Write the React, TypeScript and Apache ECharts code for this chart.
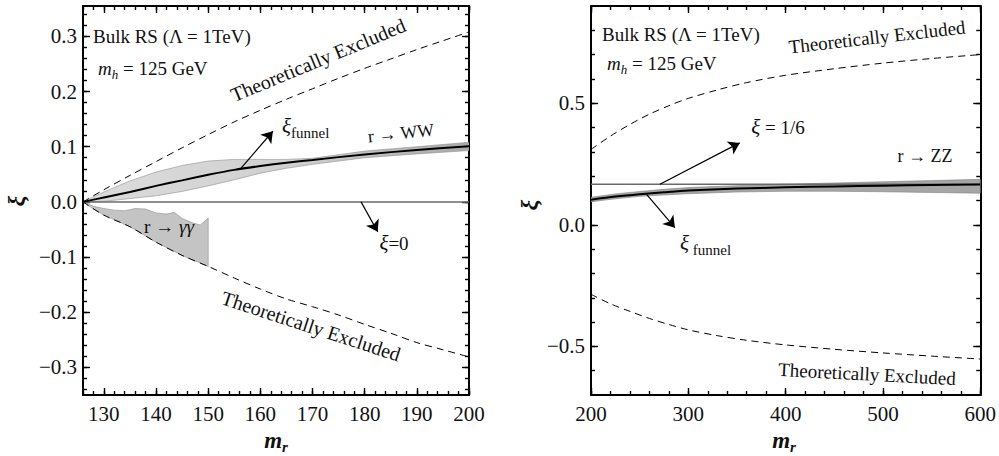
import React, { useEffect, useRef } from 'react';
import * as echarts from 'echarts';

const FONT = 'Liberation Serif';
const INK = '#111';

// ---------------- Left panel: r -> WW, r -> γγ
const L_X_RANGE = [126, 200];
const L_Y_RANGE = [-0.35, 0.355];
const L_X_TICKS = [130, 140, 150, 160, 170, 180, 190, 200];
const L_X_TICK_LABELS = ['130', '140', '150', '160', '170', '180', '190', '200'];
const L_Y_TICKS = [-0.3, -0.2, -0.1, 0, 0.1, 0.2, 0.3];
const L_Y_TICK_LABELS = ['−0.3', '−0.2', '−0.1', '0.0', '0.1', '0.2', '0.3'];

const L_BOUND_X = [126, 130, 135, 140, 145, 150, 155, 160, 165, 170, 175, 180, 185, 190, 195, 200];
const L_BOUND_UPPER = [0, 0.022, 0.048, 0.073, 0.098, 0.122, 0.145, 0.166, 0.186, 0.205, 0.224, 0.242, 0.259, 0.276, 0.292, 0.308];
const L_BOUND_LOWER = [0, -0.024, -0.045, -0.073, -0.097, -0.117, -0.138, -0.158, -0.176, -0.19, -0.205, -0.222, -0.238, -0.255, -0.268, -0.281];

const WW_X = [126, 130, 135, 140, 145, 150, 155, 160, 165, 170, 180, 190, 200];
const WW_UPPER = [0, 0.018, 0.038, 0.054, 0.066, 0.074, 0.077, 0.077, 0.077, 0.079, 0.092, 0.1, 0.108];
const WW_LOWER = [0, 0.001, 0.006, 0.011, 0.019, 0.029, 0.04, 0.052, 0.061, 0.068, 0.08, 0.087, 0.093];
const WW_CENTER = [0, 0.008, 0.018, 0.029, 0.039, 0.049, 0.058, 0.065, 0.071, 0.076, 0.086, 0.094, 0.101];

const GG_UPPER_X = [126, 128, 130, 132, 134, 136, 138, 140, 142, 143.5, 145, 147, 148.5, 150];
const GG_UPPER_Y = [0, -0.008, -0.012, -0.015, -0.016, -0.012, -0.013, -0.02, -0.022, -0.019, -0.03, -0.038, -0.042, -0.029];
const GG_LOWER_X = [126, 128, 130, 135, 140, 145, 150];
const GG_LOWER_Y = [0, -0.013, -0.024, -0.045, -0.073, -0.097, -0.117];

const L_REF_X = [126, 200];
const L_REF_Y = [0, 0];

const L_ARROWS = [
  [[156.3, 0.061], [162.4, 0.128]],
  [[179.3, 0], [182.5, -0.054]],
];

// ---------------- Right panel: r -> ZZ
const R_X_RANGE = [200, 600];
const R_Y_RANGE = [-0.7, 0.9];
const R_X_TICKS = [200, 300, 400, 500, 600];
const R_X_TICK_LABELS = ['200', '300', '400', '500', '600'];
const R_Y_TICKS = [-0.5, 0, 0.5];
const R_Y_TICK_LABELS = ['−0.5', '0.0', '0.5'];

const R_BOUND_X = [200, 220, 240, 260, 280, 300, 330, 360, 400, 450, 500, 550, 600];
const R_BOUND_UPPER = [0.31, 0.365, 0.413, 0.455, 0.49, 0.52, 0.555, 0.585, 0.615, 0.642, 0.665, 0.684, 0.7];
const R_BOUND_LOWER = [-0.286, -0.325, -0.356, -0.385, -0.41, -0.432, -0.456, -0.475, -0.494, -0.512, -0.527, -0.54, -0.552];

const ZZ_X = [200, 225, 250, 275, 300, 350, 400, 450, 500, 550, 600];
const ZZ_CENTER = [0.103, 0.116, 0.126, 0.134, 0.141, 0.149, 0.154, 0.158, 0.161, 0.164, 0.166];
const ZZ_UPPER = [0.113, 0.127, 0.137, 0.146, 0.153, 0.161, 0.167, 0.172, 0.177, 0.182, 0.187];
const ZZ_LOWER = [0.095, 0.107, 0.117, 0.123, 0.128, 0.135, 0.138, 0.138, 0.136, 0.133, 0.13];

const R_REF_X = [200, 600];
const R_REF_Y = [0.1667, 0.1667];

const R_ARROWS = [
  [[270.8, 0.1667], [352.8, 0.337]],
  [[257.1, 0.125], [286.2, -0.012]],
];

// ---------------- helpers
const zip = (xs: number[], ys: number[]) => xs.map((x, i) => [x, ys[i]]);
const steps = (a: number, b: number, s: number) => {
  const out: number[] = [];
  const n = Math.round((b - a) / s);
  for (let i = 0; i <= n; i++) out.push(+(a + i * s).toFixed(4));
  return out;
};

function labelFor(ticks: number[], labels: string[]) {
  return (v: number) => {
    const i = ticks.findIndex((t) => Math.abs(t - v) < 1e-6);
    return i >= 0 ? '{t|' + labels[i] + '}' : '';
  };
}

const tickLine = { color: '#000', width: 1.4 };
const frameLine = { show: true, onZero: false, lineStyle: { color: '#000', width: 2 } };
const noLine = { show: false, onZero: false };

function axesFor(
  dim: 'x' | 'y',
  gridIndex: number,
  range: number[],
  majors: number[],
  labels: string[],
  minors: number[],
) {
  const base = { type: 'value', gridIndex, min: range[0], max: range[1], splitLine: { show: false } };
  const p1 = dim === 'x' ? 'bottom' : 'left';
  const p2 = dim === 'x' ? 'top' : 'right';
  const label = {
    show: true,
    customValues: majors,
    formatter: labelFor(majors, labels),
    margin: dim === 'x' ? 8 : 6,
    color: INK,
    fontFamily: FONT,
    fontSize: 21,
    rich: { t: { fontFamily: FONT, fontSize: 21, color: INK } },
  };
  const major = { show: true, inside: true, length: 7, customValues: majors, lineStyle: tickLine };
  const minor = { show: true, inside: true, length: 4, customValues: minors, lineStyle: tickLine };
  return [
    { ...base, position: p1, axisLine: frameLine, axisTick: major, axisLabel: label },
    { ...base, position: p1, axisLine: noLine, axisTick: minor, axisLabel: { show: false } },
    { ...base, position: p2, axisLine: frameLine, axisTick: major, axisLabel: { show: false } },
    { ...base, position: p2, axisLine: noLine, axisTick: minor, axisLabel: { show: false } },
  ];
}

function band(ax: number, upper: number[][], lower: number[][], fill: any, stroke: string) {
  return {
    type: 'custom',
    xAxisIndex: ax,
    yAxisIndex: ax,
    silent: true,
    clip: true,
    z: 1,
    data: [upper[0]],
    renderItem: (_p: any, api: any) => {
      const ring = upper.concat(lower.slice().reverse()).map((p) => api.coord(p));
      return {
        type: 'polygon',
        shape: { points: ring },
        style: { fill, stroke, lineWidth: 0.6 },
      };
    },
  };
}

function curve(ax: number, data: number[][], color: string, width: number, dashed: boolean, z: number, extra: any = {}) {
  return {
    type: 'line',
    xAxisIndex: ax,
    yAxisIndex: ax,
    data,
    symbol: 'none',
    showSymbol: false,
    smooth: 0.3,
    silent: true,
    z,
    lineStyle: { color, width, type: dashed ? [7, 5] : 'solid' },
    emphasis: { disabled: true },
    ...extra,
  };
}

function arrows(list: number[][][]) {
  return {
    silent: true,
    symbol: ['none', 'arrow'],
    symbolSize: 11,
    lineStyle: { color: '#000', width: 1.2, type: 'solid' },
    label: { show: false },
    emphasis: { disabled: true },
    data: list.map((a) => [{ coord: a[0] }, { coord: a[1] }]),
  };
}

const RICH = {
  n: { fontFamily: FONT, fontSize: 19, lineHeight: 26, fill: INK },
  i: { fontFamily: FONT, fontSize: 19, fontStyle: 'italic', lineHeight: 26, fill: INK },
  sub: { fontFamily: FONT, fontSize: 13, fontStyle: 'italic', verticalAlign: 'bottom', fill: INK },
  xi: { fontFamily: FONT, fontSize: 21, fontStyle: 'italic', lineHeight: 28, fill: INK },
  fun: { fontFamily: FONT, fontSize: 15, verticalAlign: 'bottom', fill: INK },
  bm: { fontFamily: FONT, fontSize: 23, fontStyle: 'italic', fontWeight: 'bold', lineHeight: 28, fill: INK },
  br: { fontFamily: FONT, fontSize: 15, fontStyle: 'italic', fontWeight: 'bold', verticalAlign: 'bottom', fill: INK },
};

function txt(x: number, y: number, text: string, o: any = {}) {
  return {
    type: 'text',
    x,
    y,
    rotation: o.rot || 0,
    silent: true,
    z: 100,
    style: {
      text,
      x: 0,
      y: 0,
      fontFamily: FONT,
      fontSize: o.size || 19,
      fontStyle: o.italic ? 'italic' : 'normal',
      fontWeight: o.bold ? 'bold' : 'normal',
      fill: INK,
      align: o.align || 'center',
      verticalAlign: 'middle',
      rich: RICH,
    },
  };
}

const deg = (d: number) => (d * Math.PI) / 180;

export default function App() {
  const ref = useRef<HTMLDivElement>(null);
  useEffect(() => {
    document.body.style.margin = '0';
    if (!ref.current) return;
    const chart = echarts.init(ref.current, undefined, { renderer: 'svg' });

    const wwFill = new echarts.graphic.LinearGradient(0, 0, 1, 0, [
      { offset: 0, color: '#dcdcdc' },
      { offset: 0.55, color: '#d0d0d0' },
      { offset: 1, color: '#a9a9a9' },
    ]);

    const option: any = {
      animation: false,
      backgroundColor: '#fff',
      textStyle: { fontFamily: FONT },
      grid: [
        { left: 83, right: 530, top: 6, bottom: 61 },
        { left: 591, right: 18, top: 6, bottom: 61 },
      ],
      xAxis: [
        ...axesFor('x', 0, L_X_RANGE, L_X_TICKS, L_X_TICK_LABELS, steps(126, 200, 2)),
        ...axesFor('x', 1, R_X_RANGE, R_X_TICKS, R_X_TICK_LABELS, steps(200, 600, 20)),
      ],
      yAxis: [
        ...axesFor('y', 0, L_Y_RANGE, L_Y_TICKS, L_Y_TICK_LABELS, steps(-0.34, 0.34, 0.02)),
        ...axesFor('y', 1, R_Y_RANGE, R_Y_TICKS, R_Y_TICK_LABELS, steps(-0.6, 0.8, 0.1)),
      ],
      series: [
        band(0, zip(WW_X, WW_UPPER), zip(WW_X, WW_LOWER), wwFill, '#8f8f8f'),
        band(0, zip(GG_UPPER_X, GG_UPPER_Y), zip(GG_LOWER_X, GG_LOWER_Y), '#c4c4c4', '#8f8f8f'),
        curve(0, zip(L_REF_X, L_REF_Y), '#6a6a6a', 1.5, false, 3, { smooth: false, markLine: arrows(L_ARROWS) }),
        curve(0, zip(WW_X, WW_CENTER), '#000', 2, false, 4),
        curve(0, zip(L_BOUND_X, L_BOUND_UPPER), '#000', 1, true, 5),
        curve(0, zip(L_BOUND_X, L_BOUND_LOWER), '#000', 1, true, 5),

        band(4, zip(ZZ_X, ZZ_UPPER), zip(ZZ_X, ZZ_LOWER), '#a6a6a6', '#808080'),
        curve(4, zip(R_REF_X, R_REF_Y), '#6a6a6a', 1.5, false, 3, { smooth: false, markLine: arrows(R_ARROWS) }),
        curve(4, zip(ZZ_X, ZZ_CENTER), '#000', 2, false, 4),
        curve(4, zip(R_BOUND_X, R_BOUND_UPPER), '#000', 1, true, 5),
        curve(4, zip(R_BOUND_X, R_BOUND_LOWER), '#000', 1, true, 5),
      ],
      graphic: {
        elements: [
          // left panel
          txt(93, 36, 'Bulk RS (Λ = 1TeV)', { align: 'left' }),
          txt(98, 68, '{i|m}{sub|h}{n| = 125 GeV}', { align: 'left' }),
          txt(318, 60, 'Theoretically Excluded', { size: 20, rot: deg(22.5) }),
          txt(311, 326, 'Theoretically Excluded', { size: 20, rot: deg(-18) }),
          txt(282, 126, '{xi|ξ}{fun|funnel}', { align: 'left' }),
          txt(401, 133, 'r → WW', { size: 18, rot: deg(6) }),
          txt(394, 243, '{xi|ξ}{n|=0}'),
          txt(169, 226, '{n|r → }{i|γγ}'),
          txt(276, 440, '{bm|m}{br|r}'),
          txt(16, 201, 'ξ', { size: 24, italic: true, bold: true, rot: deg(90) }),
          // right panel
          txt(602, 34, 'Bulk RS (Λ = 1TeV)', { align: 'left' }),
          txt(607, 63, '{i|m}{sub|h}{n| = 125 GeV}', { align: 'left' }),
          txt(877, 37, 'Theoretically Excluded', { rot: deg(6.5) }),
          txt(867, 374, 'Theoretically Excluded', { rot: deg(-3) }),
          txt(778, 127, '{xi|ξ}{n| = 1/6}'),
          txt(925, 156, 'r → ZZ', { size: 18 }),
          txt(680, 243, '{xi|ξ}{fun| funnel}', { align: 'left' }),
          txt(784, 440, '{bm|m}{br|r}'),
          txt(529, 205, 'ξ', { size: 24, italic: true, bold: true, rot: deg(90) }),
        ],
      },
    };
    chart.setOption(option);
    return () => chart.dispose();
  }, []);
  return (
    <div
      ref={ref}
      style={{ width: 999, height: 456, position: 'fixed', left: 0, top: 0, background: '#fff' }}
    />
  );
}
